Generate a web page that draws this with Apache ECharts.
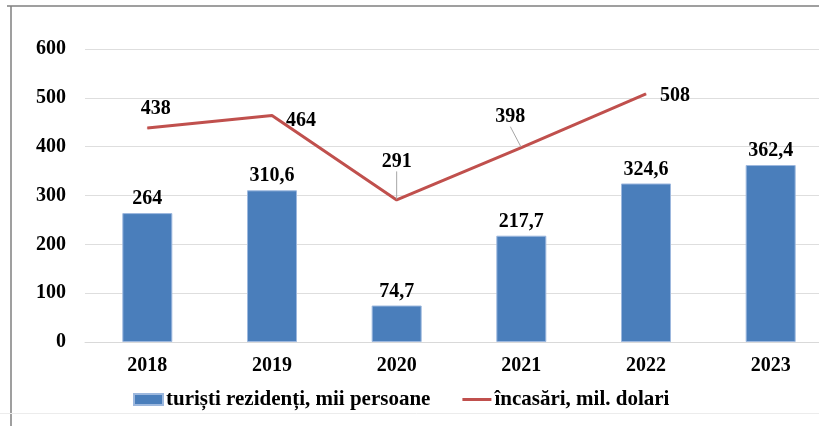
<!DOCTYPE html>
<html>
<head>
<meta charset="utf-8">
<script src="https://cdn.jsdelivr.net/npm/echarts@6/dist/echarts.min.js"></script>
<style>
html,body{margin:0;padding:0;overflow:hidden;background:#fff;width:819px;height:426px;}
#c{width:833px;height:426px;}
</style>
</head>
<body>
<div id="c"></div>
<script>
const categories = ['2018', '2019', '2020', '2021', '2022', '2023'];
const touristValues = [264, 310.6, 74.7, 217.7, 324.6, 362.4];
const revenueValues = [438, 464, 291, 398, 508, null];
const yTicks = { min: 0, max: 600, interval: 100 };
const barName = 'turiști rezidenți, mii persoane';
const lineName = 'încasări, mil. dolari';

// label placement (style only)
const lineLabelOffsets = [[8.5, -4], [29, 21], [0, -23], [-11, -15.5], [29, 17], [0, 0]];
const lineLeader = [false, false, true, true, false, false];

const FONT = 'Liberation Serif';
const chart = echarts.init(document.getElementById('c'), null, { renderer: 'canvas' });

const fmt = v => String(v).replace('.', ',');

chart.setOption({
  animation: false,
  backgroundColor: '#fff',
  grid: { left: 85, right: 0, top: 49, bottom: 84, containLabel: false },
  legend: {
    left: 128, top: 384,
    itemGap: 32, itemWidth: 29, itemHeight: 11,
    symbolKeepAspect: true,
    textStyle: { fontFamily: FONT, fontWeight: 'bold', fontSize: 21, color: '#000', padding: [0, 0, 0, -2] },
    data: [
      { name: barName, icon: 'rect' },
      { name: lineName, icon: 'path://M0,0H29V3H0Z' }
    ]
  },
  xAxis: {
    type: 'category',
    data: categories,
    axisLine: { lineStyle: { color: '#d9d9d9', width: 1 } },
    axisTick: { show: false },
    axisLabel: { fontFamily: FONT, fontWeight: 'bold', fontSize: 20, color: '#000', margin: 14 }
  },
  yAxis: {
    type: 'value',
    min: yTicks.min, max: yTicks.max, interval: yTicks.interval,
    axisLine: { show: false },
    axisTick: { show: false },
    splitLine: { lineStyle: { color: '#dedede', width: 1 } },
    axisLabel: { fontFamily: FONT, fontWeight: 'bold', fontSize: 20, color: '#000', margin: 19 }
  },
  series: [
    {
      name: barName,
      type: 'bar',
      data: touristValues,
      barWidth: 50,
      itemStyle: { color: '#4a7ebb', borderColor: '#9db8de', borderWidth: 1 },
      label: {
        show: true, position: 'top', distance: 4,
        fontFamily: FONT, fontWeight: 'bold', fontSize: 20, color: '#000',
        formatter: p => fmt(p.value)
      }
    },
    {
      name: lineName,
      type: 'line',
      data: revenueValues.map((v, i) => ({
        value: v,
        labelLine: lineLeader[i]
          ? { show: true, lineStyle: { color: '#a6a6a6', width: 1 } }
          : { show: false, lineStyle: { opacity: 0, width: 0 } }
      })),
      color: '#c0504d',
      lineStyle: { color: '#c0504d', width: 3 },
      itemStyle: { color: '#c0504d' },
      symbol: 'circle',
      symbolSize: 1,
      showSymbol: true,
      connectNulls: false,
      label: {
        show: true, position: 'top', distance: 5,
        fontFamily: FONT, fontWeight: 'bold', fontSize: 20, color: '#000',
        formatter: p => p.value == null ? '' : fmt(p.value)
      },
      labelLine: { show: true, showAbove: false, lineStyle: { color: '#a6a6a6', width: 1 } },
      labelLayout: function (params) {
        const i = params.dataIndex;
        const off = lineLabelOffsets[i] || [0, 0];
        const lr = params.labelRect;
        const r = params.rect;
        const nx = lr.x + off[0], ny = lr.y + off[1];
        const ax = r.x + r.width / 2, ay = r.y + r.height / 2;
        const out = { dx: off[0], dy: off[1] };
        if (lineLeader[i]) {
          const bx = Math.min(Math.max(ax, nx + 2), nx + lr.width - 2);
          out.labelLinePoints = [[bx, ny + lr.height + 3], [ax, ay]];
        }
        return out;
      },
      z: 3
    }
  ],
  graphic: [
    { type: 'line', shape: { x1: 7, y1: 6, x2: 833, y2: 6 }, style: { stroke: '#7f7f7f', lineWidth: 1.5 }, silent: true },
    { type: 'line', shape: { x1: 11, y1: 6, x2: 11, y2: 426 }, style: { stroke: '#7f7f7f', lineWidth: 1.5 }, silent: true },
    { type: 'line', shape: { x1: 0, y1: 413.5, x2: 833, y2: 413.5 }, style: { stroke: '#ececec', lineWidth: 1 }, silent: true }
  ]
});
</script>
</body>
</html>
